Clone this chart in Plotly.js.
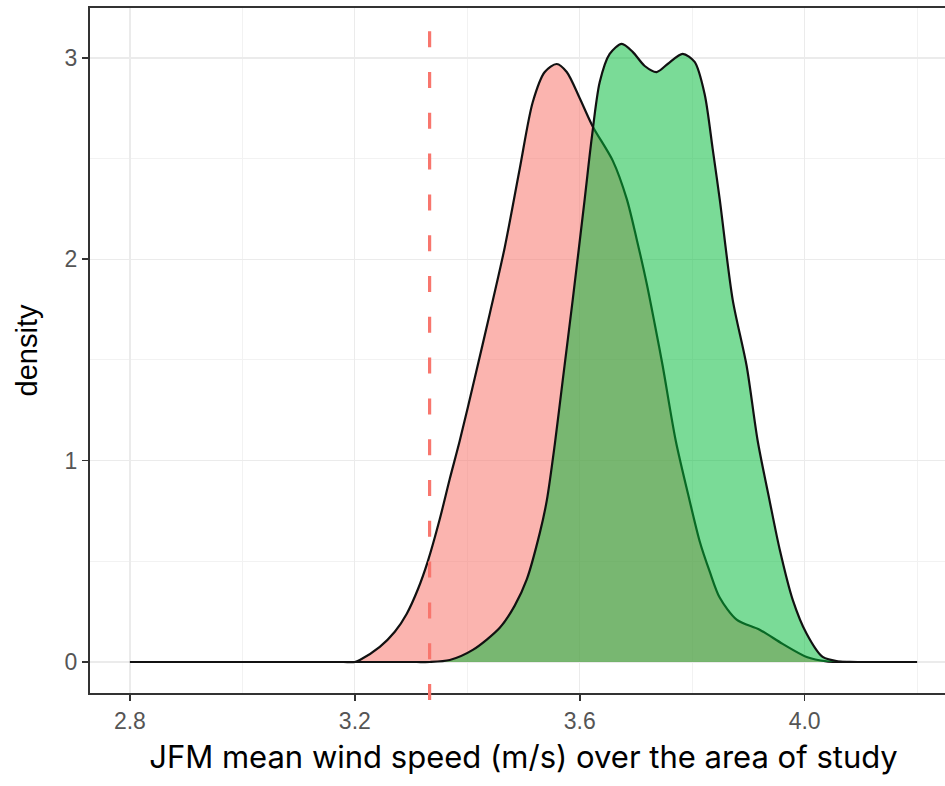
<!DOCTYPE html>
<html>
<head>
<meta charset="utf-8">
<script src="https://cdn.plot.ly/plotly-3.0.1.min.js"></script>
<style>
html,body{margin:0;padding:0;overflow:hidden;background:#fff;}
#chart{width:962px;height:786px;}
</style>
</head>
<body>
<div id="chart"></div>
<script>
// Density curve for the first (red) group
const redX = [2.8, 3.0, 3.1, 3.15, 3.18, 3.2, 3.2089, 3.2444, 3.2711, 3.2924, 3.312, 3.3298, 3.3511, 3.3689, 3.3867, 3.4133, 3.44, 3.4667, 3.4933, 3.5164, 3.5378, 3.5591, 3.5769, 3.6, 3.6231, 3.6587, 3.6836, 3.7013, 3.7191, 3.7333, 3.7476, 3.7707, 3.7956, 3.8133, 3.8311, 3.8489, 3.8791, 3.92, 3.9609, 4.0036, 4.0391, 4.06, 4.08, 4.12, 4.16, 4.2];
const redY = [0, 0, 0, 0, 0, 0, 0.01, 0.075, 0.15, 0.24, 0.36, 0.50, 0.71, 0.91, 1.10, 1.41, 1.73, 2.06, 2.45, 2.78, 2.93, 2.97, 2.93, 2.80, 2.66, 2.49, 2.30, 2.10, 1.88, 1.68, 1.47, 1.10, 0.80, 0.60, 0.45, 0.32, 0.21, 0.16, 0.09, 0.025, 0.003, 0.0005, 0, 0, 0, 0];
// Density curve for the second (green) group
const greenX = [2.8, 3.0, 3.2, 3.28, 3.31, 3.3333, 3.3689, 3.4098, 3.4578, 3.4844, 3.5058, 3.5289, 3.5413, 3.5556, 3.5698, 3.5876, 3.6089, 3.6213, 3.6356, 3.6533, 3.6747, 3.6942, 3.7156, 3.7369, 3.7564, 3.7831, 3.8044, 3.8222, 3.8364, 3.8489, 3.872, 3.8969, 3.9164, 3.9378, 3.9556, 3.9787, 4.0036, 4.032, 4.0622, 4.08, 4.0978, 4.13, 4.16, 4.2];
const greenY = [0, 0, 0, 0, 0, 0, 0.01, 0.06, 0.17, 0.28, 0.41, 0.64, 0.80, 1.08, 1.40, 1.80, 2.30, 2.60, 2.88, 3.02, 3.07, 3.03, 2.96, 2.93, 2.97, 3.02, 2.98, 2.82, 2.55, 2.30, 1.80, 1.47, 1.10, 0.80, 0.56, 0.31, 0.14, 0.025, 0.002, 0.0003, 0, 0, 0, 0];
// Reference (threshold) value shown as dashed line
const thresholdX = [3.333];
const xTicks = [2.8, 3.2, 3.6, 4.0];
const xTickLabels = ['2.8', '3.2', '3.6', '4.0'];
const yTicks = [0, 1, 2, 3];
const yTickLabels = ['0', '1', '2', '3'];

const traces = [
  {x: redX, y: redY, type: 'scatter', mode: 'lines', fill: 'tozeroy',
   fillcolor: 'rgba(248,118,109,0.55)', line: {color: '#111', width: 2.2, shape: 'spline', smoothing: 0.8},
   hoverinfo: 'skip', showlegend: false},
  {x: greenX, y: greenY, type: 'scatter', mode: 'lines', fill: 'tozeroy',
   fillcolor: 'rgba(0,186,56,0.52)', line: {color: '#111', width: 2.2, shape: 'spline', smoothing: 0.8},
   hoverinfo: 'skip', showlegend: false}
];

const layout = {
  width: 962, height: 786,
  margin: {l: 90, r: 5, t: 8, b: 93},
  paper_bgcolor: '#fff', plot_bgcolor: '#fff',
  font: {family: 'Liberation Sans, Arial, sans-serif', color: '#4d4d4d'},
  xaxis: {
    range: [2.729, 4.271], tickvals: xTicks, ticktext: xTickLabels,
    showgrid: true, gridcolor: '#ebebeb', gridwidth: 1.3, zeroline: false,
    showline: true, linecolor: '#333', linewidth: 2, mirror: true,
    ticks: 'outside', ticklen: 6, tickwidth: 1.6, tickcolor: '#333',
    tickfont: {size: 23, color: '#555', family: 'Liberation Sans, Arial, sans-serif'},
    minor: {dtick: 0.2, tick0: 2.8, showgrid: true, gridcolor: '#f2f2f2', gridwidth: 1, ticks: ''},
    title: {text: 'JFM mean wind speed (m/s) over the area of study', standoff: 14,
            font: {size: 31, color: '#000', family: 'Inter, Roboto, sans-serif'}}
  },
  yaxis: {
    range: [-0.154, 3.248], tickvals: yTicks, ticktext: yTickLabels,
    showgrid: true, gridcolor: '#ebebeb', gridwidth: 1.3, zeroline: false,
    showline: true, linecolor: '#333', linewidth: 2, mirror: true,
    ticks: 'outside', ticklen: 6, tickwidth: 1.6, tickcolor: '#333',
    tickfont: {size: 23, color: '#555', family: 'Liberation Sans, Arial, sans-serif'},
    minor: {dtick: 0.5, tick0: 0, showgrid: true, gridcolor: '#f2f2f2', gridwidth: 1, ticks: ''},
    title: {text: 'density', standoff: 18,
            font: {size: 29, color: '#000', family: 'Liberation Sans, Arial, sans-serif'}}
  },
  shapes: thresholdX.map(v => ({
    type: 'line', xref: 'x', yref: 'paper', x0: v, x1: v, y0: -0.0102, y1: 1,
    line: {color: '#F8766D', width: 3.2, dash: '16px,24.8px'}, layer: 'above'
  }))
};

Plotly.newPlot('chart', traces, layout, {staticPlot: true, displayModeBar: false});
</script>
</body>
</html>
